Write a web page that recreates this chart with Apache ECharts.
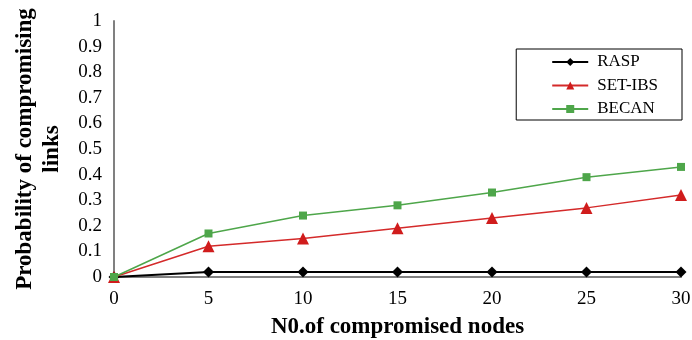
<!DOCTYPE html>
<html>
<head>
<meta charset="utf-8">
<script src="https://cdn.jsdelivr.net/npm/echarts@6/dist/echarts.min.js"></script>
<style>html,body{margin:0;padding:0;background:#fff}#c{width:692px;height:340px}</style>
</head>
<body>
<div id="c"></div>
<script>
const xValues = [0, 5, 10, 15, 20, 25, 30];
const rasp = [0, 0.02, 0.02, 0.02, 0.02, 0.02, 0.02];
const setIbs = [0, 0.12, 0.15, 0.19, 0.23, 0.27, 0.32];
const becan = [0, 0.17, 0.24, 0.28, 0.33, 0.39, 0.43];
const seriesNames = ['RASP', 'SET-IBS', 'BECAN'];
const xTitle = 'N0.of compromised nodes';
const yTitle = 'Probability of compromising\nlinks';

const font = '"Liberation Serif", "Times New Roman", serif';
const pairs = arr => xValues.map((x, i) => [x, arr[i]]);

const chart = echarts.init(document.getElementById('c'), null, {renderer: 'canvas'});
chart.setOption({
  animation: false,
  backgroundColor: '#fff',
  grid: {left: 114, right: 11, top: 21, bottom: 63, containLabel: false, outerBoundsMode: 'none'},
  legend: {
    right: 10, top: 49, orient: 'vertical',
    data: seriesNames,
    itemWidth: 36, itemHeight: 10, itemGap: 6.5,
    padding: [4.5, 24, 2.5, 35],
    borderColor: '#000', borderWidth: 1,
    textStyle: {fontFamily: font, fontSize: 17, color: '#000', padding: [0, 0, 0, 4]}
  },
  xAxis: {
    type: 'value', min: 0, max: 30, interval: 5,
    axisLine: {lineStyle: {color: '#808080', width: 2}},
    axisTick: {show: false},
    splitLine: {show: false},
    axisLabel: {fontFamily: font, fontSize: 19, color: '#000', margin: 13},
    name: xTitle, nameLocation: 'middle', nameGap: 39,
    nameTextStyle: {fontFamily: font, fontSize: 23, fontWeight: 'bold', color: '#000'}
  },
  yAxis: {
    type: 'value', min: 0, max: 1, interval: 0.1,
    axisLine: {show: true, lineStyle: {color: '#808080', width: 2}},
    axisTick: {show: false},
    splitLine: {show: false},
    axisLabel: {fontFamily: font, fontSize: 19, color: '#000', margin: 12},
    name: yTitle, nameLocation: 'middle', nameGap: 48, nameRotate: 90,
    nameTextStyle: {fontFamily: font, fontSize: 23, fontWeight: 'bold', color: '#000', lineHeight: 27}
  },
  series: [
    {name: seriesNames[0], type: 'line', data: pairs(rasp), symbol: 'diamond', symbolSize: 11,
     lineStyle: {color: '#000', width: 2}, itemStyle: {color: '#000'}, z: 3},
    {name: seriesNames[1], type: 'line', data: pairs(setIbs), symbol: 'triangle', symbolSize: 12,
     lineStyle: {color: '#d42a2a', width: 1.5}, itemStyle: {color: '#d01c1c'}, z: 4},
    {name: seriesNames[2], type: 'line', data: pairs(becan), symbol: 'rect', symbolSize: 8,
     lineStyle: {color: '#4ea64a', width: 1.5}, itemStyle: {color: '#4ea64a'}, z: 5}
  ]
});
</script>
</body>
</html>
